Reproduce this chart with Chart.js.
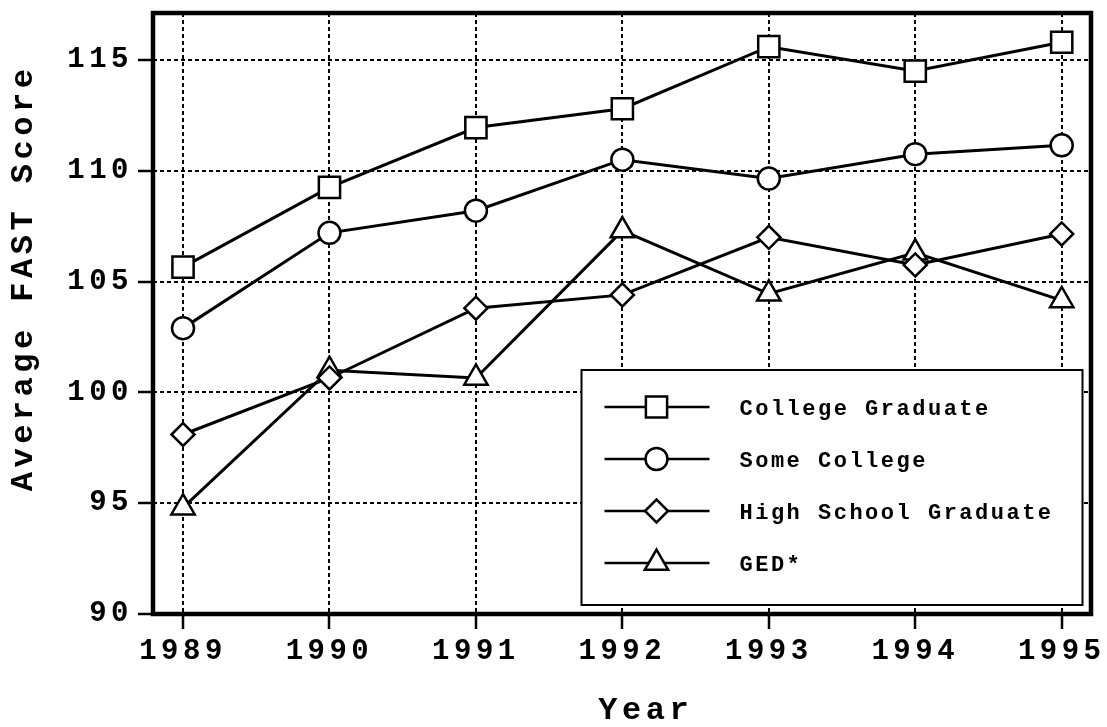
<!DOCTYPE html>
<html lang="en">
<head>
    <meta charset="UTF-8">
    <title>Average FAST Score by Education Level</title>
    <script src="https://cdn.jsdelivr.net/npm/chart.js@4.4.2/dist/chart.umd.min.js"></script>
    <style>
        html, body { margin: 0; padding: 0; background: #fff; }
        #wrap { width: 1107px; height: 727px; }
    </style>
</head>
<body>
<div id="wrap"><canvas id="fastChart"></canvas></div>

<script>
// --- Data ---
const years = [1989, 1990, 1991, 1992, 1993, 1994, 1995];
const collegeGraduate = [105.65, 109.25, 111.95, 112.8, 115.6, 114.5, 115.8];
const someCollege = [102.9, 107.2, 108.2, 110.5, 109.65, 110.75, 111.15];
const highSchoolGraduate = [98.1, 100.65, 103.8, 104.4, 107.0, 105.75, 107.15];
const ged = [94.8, 101.0, 100.65, 107.3, 104.45, 106.3, 104.15];

const seriesLabels = ['College Graduate', 'Some College', 'High School Graduate', 'GED*'];
const yTicks = [90, 95, 100, 105, 110, 115];

const MONO = "'Courier New', 'Liberation Mono', monospace";

// wide letter spacing like the original typewriter-style labels
const spacingPlugin = {
    id: 'spacing',
    beforeUpdate(chart) { chart.ctx.letterSpacing = '4.5px'; },
    beforeDraw(chart) { chart.ctx.letterSpacing = '4.5px'; }
};

// heavy frame round the plot + boxed legend with line-and-marker samples
const framePlugin = {
    id: 'frame',
    beforeDatasetsDraw(chart) {
        const { ctx, chartArea: a } = chart;
        ctx.save();
        ctx.lineWidth = 4.5;
        ctx.strokeStyle = '#000';
        ctx.strokeRect(a.left, a.top, a.right - a.left, a.bottom - a.top);
        ctx.restore();
    },
    afterDraw(chart) {
        const { ctx, chartArea: a } = chart;
        const w = 501, h = 235;
        const left = a.right - 8.5 - w, top = a.bottom - 9 - h;
        ctx.save();
        ctx.fillStyle = '#fff';
        ctx.fillRect(left, top, w, h);
        ctx.lineWidth = 2;
        ctx.strokeStyle = '#000';
        ctx.strokeRect(left, top, w, h);
        ctx.font = 'bold 22px ' + MONO;
        ctx.letterSpacing = '2.5px';
        ctx.textBaseline = 'middle';
        ctx.textAlign = 'left';
        chart.data.datasets.forEach((ds, i) => {
            const y = top + 37 + i * 52;
            ctx.lineWidth = 2.5;
            ctx.beginPath();
            ctx.moveTo(left + 23, y);
            ctx.lineTo(left + 128, y);
            ctx.stroke();
            ctx.fillStyle = '#fff';
            ctx.lineWidth = 2.5;
            Chart.helpers.drawPoint(ctx, {
                pointStyle: ds.pointStyle, radius: ds.pointRadius, rotation: 0, borderWidth: 2.5
            }, left + 75, y);
            ctx.fillStyle = '#000';
            ctx.fillText(ds.label, left + 158, y + 2);
        });
        ctx.restore();
    }
};

function makeSet(label, values, style, radius) {
    return {
        label: label,
        data: years.map((x, i) => ({ x: x, y: values[i] })),
        borderColor: '#000',
        backgroundColor: '#fff',
        borderWidth: 3,
        pointStyle: style,
        pointRadius: radius,
        pointBackgroundColor: '#fff',
        pointBorderColor: '#000',
        pointBorderWidth: 2.5,
        tension: 0
    };
}

const tickFont = { family: MONO, size: 29, weight: 'bold' };
const titleFont = { family: MONO, size: 32, weight: 'bold', lineHeight: 1.0 };

new Chart(document.getElementById('fastChart'), {
    type: 'line',
    data: {
        datasets: [
            makeSet(seriesLabels[0], collegeGraduate, 'rect', 15),
            makeSet(seriesLabels[1], someCollege, 'circle', 11),
            makeSet(seriesLabels[2], highSchoolGraduate, 'rectRot', 11.5),
            makeSet(seriesLabels[3], ged, 'triangle', 13.5)
        ]
    },
    options: {
        responsive: true,
        maintainAspectRatio: false,
        animation: false,
        layout: { autoPadding: false, padding: { left: 8, top: 13, right: 16, bottom: 0 } },
        plugins: {
            legend: { display: false },
            tooltip: { enabled: false }
        },
        scales: {
            x: {
                type: 'linear',
                min: 1988.795,
                max: 1995.2,
                afterBuildTicks: s => { s.ticks = years.map(v => ({ value: v })); },
                afterFit: s => { s.height = 113; s.paddingLeft = 0; s.paddingRight = 0; },
                ticks: {
                    callback: v => String(v),
                    color: '#000',
                    font: tickFont,
                    padding: 5,
                    maxRotation: 0,
                    autoSkip: false
                },
                grid: { color: '#000', lineWidth: 2, tickLength: 15, tickWidth: 2.5, tickColor: '#000' },
                border: { display: false, dash: [4, 3] },
                title: { display: true, text: '  Year', color: '#000', font: titleFont, padding: 0 }
            },
            y: {
                min: 90,
                max: 117.12,
                afterBuildTicks: s => { s.ticks = yTicks.map(v => ({ value: v })); },
                afterFit: s => { s.width = 145; s.paddingTop = 0; s.paddingBottom = 0; },
                ticks: {
                    callback: v => String(v),
                    color: '#000',
                    font: tickFont,
                    padding: 5
                },
                grid: { color: '#000', lineWidth: 2, tickLength: 15, tickWidth: 2.5, tickColor: '#000' },
                border: { display: false, dash: [4, 3] },
                title: { display: true, text: '   Average FAST Score', color: '#000', font: titleFont, padding: 0 }
            }
        }
    },
    plugins: [spacingPlugin, framePlugin]
});
</script>
</body>
</html>
